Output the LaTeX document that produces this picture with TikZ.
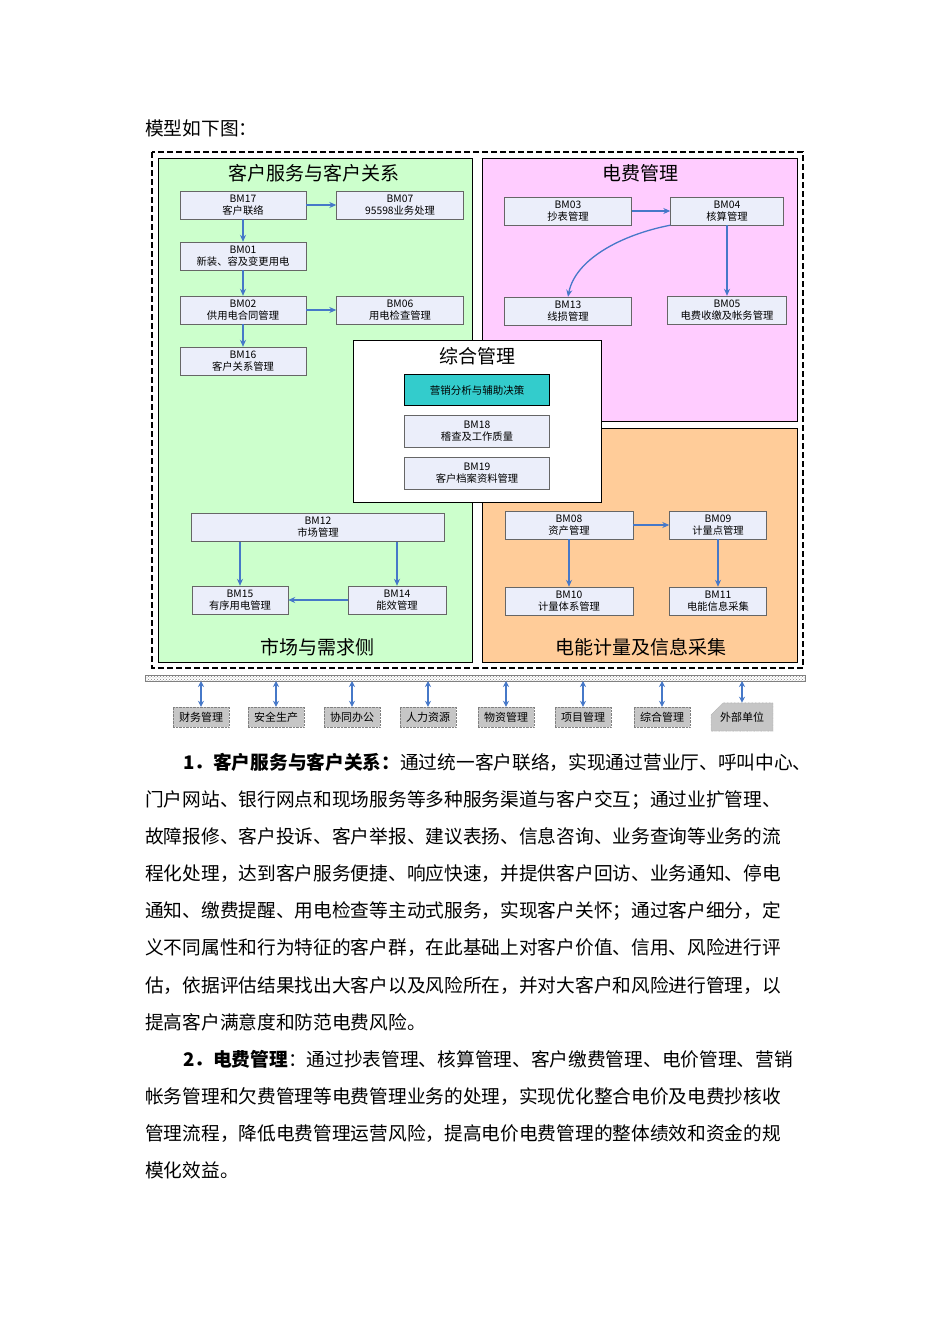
\documentclass[tikz,border=0pt]{standalone}
\usepackage{fontspec}
\setmainfont{Noto Sans CJK SC}
\usetikzlibrary{arrows.meta,patterns,shapes.misc}
\definecolor{abl}{RGB}{70,120,200}
\definecolor{gfill}{RGB}{204,255,204}
\definecolor{pfill}{RGB}{255,204,255}
\definecolor{ofill}{RGB}{255,204,153}
\definecolor{bfill}{RGB}{235,238,250}
\definecolor{teal2}{RGB}{51,204,204}
\tikzset{
 bx/.style={draw=gray!80!black,fill=bfill,align=center,inner sep=0pt,font=\fontsize{10.3}{11.5}\selectfont},
 ar/.style={draw=abl,line width=1.3pt,-{Stealth[length=7pt,width=6pt]}},
 dar/.style={draw=abl,line width=1.3pt,{Stealth[length=6pt,width=6pt]}-{Stealth[length=6pt,width=6pt]}},
 gb/.style={draw=gray,densely dotted,fill=gray!45,minimum width=56pt,minimum height=20pt,inner sep=0pt,font=\fontsize{11}{12}\selectfont},
 ln/.style={anchor=base west,inner sep=0pt,font=\fontsize{18.7}{20}\selectfont},
 ttl/.style={font=\fontsize{19}{21}\selectfont}
}
\newcommand{\bxat}[5]{\node[bx,minimum width=#4pt,minimum height=28pt] (#1) at (#2,#3) {#5};}
\begin{document}
\begin{tikzpicture}[x=1pt,y=-1pt]
\useasboundingbox[fill=white] (0,0) rectangle (950,1344);
\node[ln] (t0) at (145,135) {模型如下图：};
% regions
\draw[dash pattern=on 6pt off 3pt,line width=1.5pt] (152,152) rectangle (803,668);
\draw[fill=gfill,line width=1pt] (158,158) rectangle (472,662);
\draw[fill=pfill,line width=1pt] (482,158) rectangle (797,421);
\draw[fill=ofill,line width=1pt] (482,428) rectangle (797,662);
\draw[fill=white,line width=1pt] (353,340) rectangle (601,502);
\node[ttl] (tA) at (314,173) {客户服务与客户关系};
\node[ttl] (tB) at (640,173) {电费管理};
\node[ttl] (tC) at (477,356) {综合管理};
\node[ttl] (tD) at (317,647) {市场与需求侧};
\node[ttl] (tE) at (641,647) {电能计量及信息采集};
% green
\bxat{b17}{243}{205}{126}{BM17\\客户联络}
\bxat{b07}{400}{205}{127}{BM07\\95598业务处理}
\bxat{b01}{243}{256}{126}{BM01\\新装、容及变更用电}
\bxat{b02}{243}{310}{126}{BM02\\供用电合同管理}
\bxat{b06}{400}{310}{127}{BM06\\用电检查管理}
\bxat{b16}{243}{361}{126}{BM16\\客户关系管理}
\draw[ar] (b17) -- (b07);
\draw[ar] (b17) -- (b01);
\draw[ar] (b01) -- (b02);
\draw[ar] (b02) -- (b06);
\draw[ar] (b02) -- (b16);
% pink
\bxat{b03}{568}{211}{127}{BM03\\抄表管理}
\bxat{b04}{727}{211}{113}{BM04\\核算管理}
\bxat{b13}{568}{311}{127}{BM13\\线损管理}
\bxat{b05}{727}{310}{119}{BM05\\电费收缴及帐务管理}
\draw[ar] (b03) -- (b04);
\draw[ar] (b04) -- (b05);
\draw[ar] (b04.south west) .. controls (620,235) and (575,260) .. (b13.north);
% white
\node[draw,fill=teal2,minimum width=145pt,minimum height=31pt,font=\fontsize{10.5}{12}\selectfont] (bz) at (477,390) {营销分析与辅助决策};
\node[bx,minimum width=145pt,minimum height=32pt] (b18) at (477,431) {BM18\\稽查及工作质量};
\node[bx,minimum width=145pt,minimum height=32pt] (b19) at (477,473) {BM19\\客户档案资料管理};
% orange
\bxat{b08}{569}{525}{128}{BM08\\资产管理}
\bxat{b09}{718}{525}{97}{BM09\\计量点管理}
\bxat{b10}{569}{601}{128}{BM10\\计量体系管理}
\bxat{b11}{718}{601}{97}{BM11\\电能信息采集}
\draw[ar] (b08) -- (b09);
\draw[ar] (b08) -- (b10);
\draw[ar] (b09) -- (b11);
% market
\bxat{b12}{318}{527}{253}{BM12\\市场管理}
\bxat{b15}{240}{600}{96}{BM15\\有序用电管理}
\bxat{b14}{397}{600}{98}{BM14\\能效管理}
\coordinate (c1) at (240,542);
\coordinate (c2) at (397,542);
\draw[ar] (c1) -- (b15);
\draw[ar] (c2) -- (b14);
\draw[ar] (b14) -- (b15);
% bus
\draw[draw=gray,pattern=crosshatch dots,pattern color=gray] (145,675) rectangle (805,681);
\foreach \n/\xx/\tt in {g1/201/财务管理,g2/276/安全生产,g3/352/协同办公,g4/428/人力资源,g5/506/物资管理,g6/583/项目管理,g7/662/综合管理}{
 \node[gb] (\n) at (\xx,717) {\tt};
 \draw[dar] (\xx,681) -- (\n.north);
}
\node[gb,chamfered rectangle,chamfered rectangle corners=north west,chamfered rectangle xsep=6pt,chamfered rectangle ysep=6pt,inner sep=3pt] (g8) at (742,717) {外部单位};
\draw[dar] (742,681) -- (g8.north);
% paragraphs
\node[ln] (p1) at (183,769) {\textbf{1．客户服务与客户关系：}通过统一客户联络，实现通过营业厅、呼叫中心、};
\node[ln] (p2) at (145,806) {门户网站、银行网点和现场服务等多种服务渠道与客户交互；通过业扩管理、};
\node[ln] (p3) at (145,843) {故障报修、客户投诉、客户举报、建议表扬、信息咨询、业务查询等业务的流};
\node[ln] (p4) at (145,880) {程化处理，达到客户服务便捷、响应快速，并提供客户回访、业务通知、停电};
\node[ln] (p5) at (145,917) {通知、缴费提醒、用电检查等主动式服务，实现客户关怀；通过客户细分，定};
\node[ln] (p6) at (145,954) {义不同属性和行为特征的客户群，在此基础上对客户价值、信用、风险进行评};
\node[ln] (p7) at (145,992) {估，依据评估结果找出大客户以及风险所在，并对大客户和风险进行管理，以};
\node[ln] (p8) at (145,1029) {提高客户满意度和防范电费风险。};
\node[ln] (q1) at (183,1066) {\textbf{2．电费管理}：通过抄表管理、核算管理、客户缴费管理、电价管理、营销};
\node[ln] (q2) at (145,1103) {帐务管理和欠费管理等电费管理业务的处理，实现优化整合电价及电费抄核收};
\node[ln] (q3) at (145,1140) {管理流程，降低电费管理运营风险，提高电价电费管理的整体绩效和资金的规};
\node[ln] (q4) at (145,1177) {模化效益。};
\end{tikzpicture}
\end{document}
